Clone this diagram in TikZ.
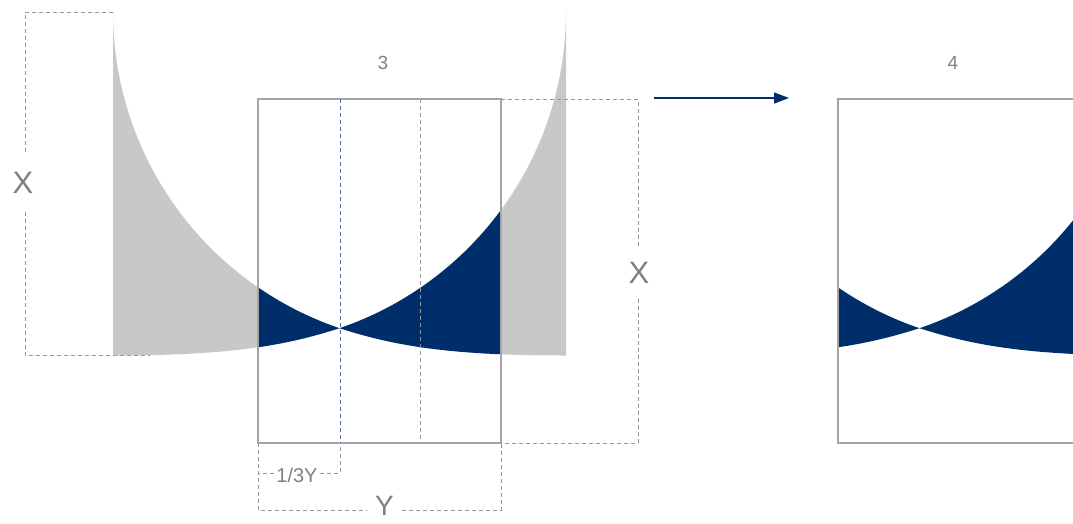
\documentclass[tikz,border=0pt]{standalone}
\usepackage{fontspec}
\setmainfont{Liberation Sans}
\usetikzlibrary{arrows.meta,calc}
\definecolor{navy}{RGB}{0,46,106}
\definecolor{shade}{RGB}{200,200,200}
\definecolor{framec}{RGB}{165,165,165}
\definecolor{dashc}{RGB}{150,150,150}
\definecolor{txt}{RGB}{128,128,128}
\tikzset{
  bowl/.pic={
    \path[pic actions] (113,12) -- plot[domain=0:71.22,samples=80] ({447-334*cos(\x)},{12+334*sin(\x)})
      .. controls (284,346) and (229,355.5) .. (113,355.5) -- cycle;
    \path[pic actions] (339.5,328.2) -- plot[domain=71.22:0,samples=80] ({232+334*cos(\x)},{12+334*sin(\x)})
      -- (566,355.5) .. controls (450,355.5) and (395,346) .. (339.5,328.2) -- cycle;
  },
  framebox/.style={draw=framec, line width=1.2pt, inner sep=0pt, outer sep=0pt},
  dashline/.style={draw=dashc, line width=0.9pt, dash pattern=on 4pt off 3pt},
  bigtxt/.style={text=txt, font=\fontsize{31}{31}\selectfont, inner sep=0pt},
  ytxt/.style={text=txt, font=\fontsize{28}{28}\selectfont, inner sep=0pt},
  midtxt/.style={text=txt, font=\fontsize{20}{20}\selectfont, inner sep=0pt},
  smalltxt/.style={text=txt, font=\fontsize{19}{19}\selectfont, inner sep=0pt},
}
\begin{document}
\begin{tikzpicture}[x=1pt,y=-1pt]
\useasboundingbox (0,0) rectangle (1073,523);

% shapes
\pic[fill=shade] at (0,0) {bowl};
\begin{scope}
  \clip (258,99) rectangle (501,443);
  \pic[fill=navy] at (0,0) {bowl};
\end{scope}
\begin{scope}
  \clip (838,99) rectangle (1081,443);
  \pic[fill=navy] at (580,0) {bowl};
\end{scope}

% frames
\node[framebox, minimum width=243pt, minimum height=344pt] (box3) at (379.5,271) {};
\node[framebox, minimum width=243pt, minimum height=344pt] (box4) at (959.5,271) {};

% inner dashed guides
\coordinate (g1t) at (340,99);
\coordinate (g1b) at (340,443);
\coordinate (g2t) at (420,99);
\coordinate (g2b) at (420,443);
\draw[dashline, draw=navy!70] (g1t) -- (g1b);
\draw[dashline] (g2t) -- (g2b);

% labels
\node[smalltxt] (l3) at (383,63) {3};
\node[smalltxt] (l4) at (953,63) {4};
\node[bigtxt] (xl) at (23,183) {X};
\node[bigtxt] (xr) at (639,273) {X};
\node[ytxt] (yb) at (384.5,506) {Y};
\node[midtxt] (yt) at (297,475) {1/3Y};

% left X bracket
\coordinate (lt) at (113,12);
\coordinate (ltl) at (25,12);
\coordinate (lbl) at (25,355.5);
\coordinate (lbr) at (150,355.5);
\draw[dashline] (lt) -- (ltl) -- ($(ltl|-xl)+(0,-29)$);
\draw[dashline] ($(ltl|-xl)+(0,29)$) -- (lbl) -- (lbr);

% right X bracket
\coordinate (rt) at (638,99);
\coordinate (rb) at (638,443);
\draw[dashline] (box3.north east) -- (rt) -- ($(rt|-xr)+(0,-27)$);
\draw[dashline] ($(rt|-xr)+(0,26)$) -- (rb) -- (box3.south east);

% Y bracket
\coordinate (yl) at (258,510);
\coordinate (yr) at (501,510);
\draw[dashline] (box3.south west) -- (yl) -- ($(yb.west|-yl)+(-8,0)$);
\draw[dashline] ($(yb.east|-yr)+(8,0)$) -- (yr) -- (box3.south east);

% 1/3Y bracket
\coordinate (tl) at (258,473);
\coordinate (tr) at (340,473);
\draw[dashline] (box3.south west) -- (tl) -- ($(yt.west|-tl)+(-2,0)$);
\draw[dashline] ($(yt.east|-tr)+(2,0)$) -- (tr) -- (g1b);

% arrow
\coordinate (a1) at (654,98);
\coordinate (a2) at (789,98);
\draw[navy, line width=1.4pt, -{Triangle[length=15pt,width=11pt]}] (a1) -- (a2);
\end{tikzpicture}
\end{document}
